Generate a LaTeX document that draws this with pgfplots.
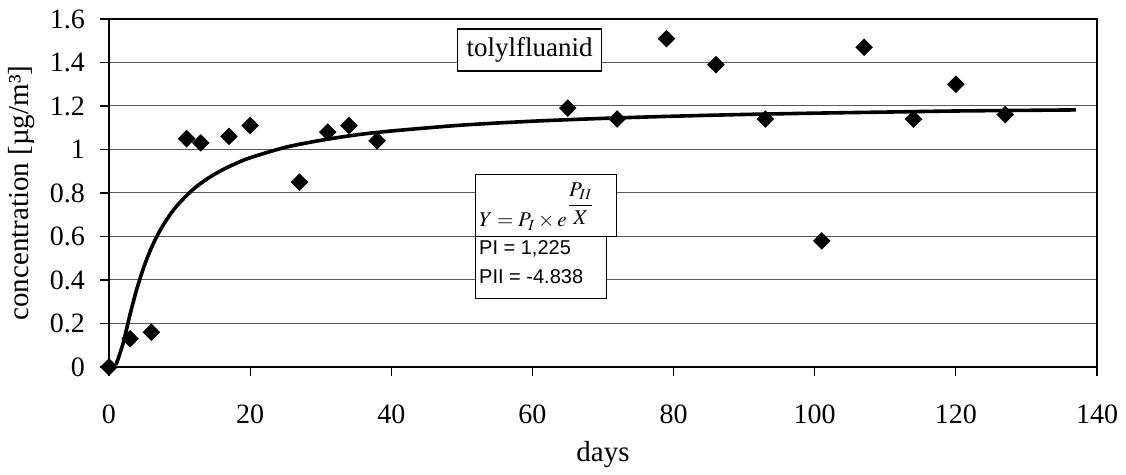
\documentclass[border=0pt]{standalone}
\usepackage{mathptmx}
\usepackage{pgfplots}
\pgfplotsset{compat=1.18}
\usepackage{fontspec}
\setmainfont{Liberation Serif}
\newfontfamily\arial{Liberation Sans}

\begin{document}
\begin{tikzpicture}
\begin{axis}[
    scale only axis,
    width=494pt,
    height=174pt,
    xmin=0, xmax=140,
    ymin=0, ymax=1.6,
    xtick={0,20,40,60,80,100,120,140},
    ytick={0,0.2,0.4,0.6,0.8,1,1.2,1.4,1.6},
    tick align=outside,
    major tick length=4.5pt,
    xtick pos=bottom,
    ytick pos=left,
    ymajorgrids,
    grid style={black!65, line width=0.5pt},
    axis line style={line width=0.7pt},
    tick style={black, line width=0.6pt},
    /pgf/number format/assume math mode=true,
    tick label style={font=\fontsize{14}{16}\selectfont},
    xticklabel style={yshift=-11pt},
    yticklabel style={xshift=-4pt},
    label style={font=\fontsize{14.5}{17}\selectfont},
    xlabel={days},
    ylabel={concentration [µg/m³]},
    xlabel style={at={(axis description cs:0.5,-0.253)}, anchor=center},
    ylabel style={at={(axis description cs:-0.088,0.5)}, anchor=center},
    clip=false
]
% measured values
\addplot[only marks, mark=square*, mark size=2.9pt,
    mark options={rotate=45, fill=black, draw=black}] coordinates {
(0,0) (3,0.13) (6,0.16) (11,1.05) (13,1.03) (17,1.06) (20,1.11)
(27,0.85) (31,1.08) (34,1.11) (38,1.04) (65,1.19) (72,1.14)
(79,1.51) (86,1.39) (93,1.14) (101,0.58) (107,1.47) (114,1.14)
(120,1.30) (127,1.16)
};
% fitted curve Y = 1.225 * exp(-4.838/X)
\addplot[black, line width=1.8pt, smooth, mark=none] coordinates {
(1,0.010) (2,0.109) (3,0.244) (4,0.365) (5,0.466) (6,0.547) (7,0.614)
(8,0.669) (9,0.716) (10,0.755) (12,0.819) (14,0.867) (16,0.905)
(18,0.936) (20,0.962) (25,1.010) (30,1.042) (35,1.067) (40,1.085)
(50,1.112) (60,1.130) (70,1.143) (80,1.153) (90,1.161) (100,1.167)
(110,1.172) (120,1.177) (130,1.180) (137,1.182)
};
\node[draw, fill=white, line width=0.6pt, minimum width=72pt,
    minimum height=21pt, inner sep=0pt, font=\fontsize{13.5}{15}\selectfont]
    at (axis cs:59.6,1.457) {tolylfluanid};
\draw[fill=white, line width=0.5pt] (axis cs:51.9,0.598) rectangle (axis cs:71.9,0.883);
\draw[fill=white, line width=0.5pt] (axis cs:51.9,0.313) rectangle (axis cs:70.5,0.598);
\node[anchor=base west, inner sep=0pt, font=\fontsize{10.5}{12}\selectfont]
    at (axis cs:52.4,0.644) {$Y = P_{I} \times e^{\displaystyle\frac{P_{II}}{X}}$};
\node[anchor=west, inner sep=0pt, font=\arial\fontsize{10}{12}\selectfont]
    at (axis cs:52.4,0.5425) {PI = 1,225};
\node[anchor=west, inner sep=0pt, font=\arial\fontsize{10}{12}\selectfont]
    at (axis cs:52.4,0.414) {PII = -4.838};
\end{axis}
\path ([xshift=-54.5pt,yshift=-50.5pt]current axis.south west)
    rectangle ([xshift=14.5pt,yshift=9.5pt]current axis.north east);
\end{tikzpicture}
\end{document}
